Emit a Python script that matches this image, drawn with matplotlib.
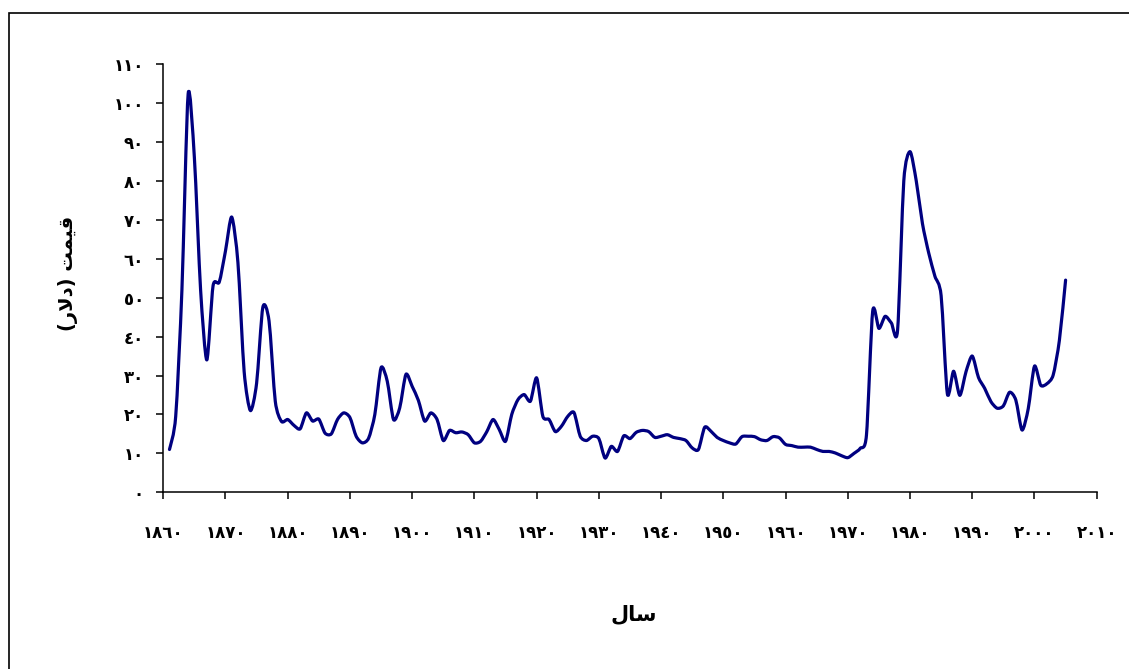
import numpy as np
import matplotlib
matplotlib.use("Agg")
import matplotlib.pyplot as plt
from matplotlib.patches import Rectangle, PathPatch
from matplotlib.path import Path

# annual crude oil price, 1861-2005 (dollars)
years = list(range(1861, 2006))
prices = [
    11.0, 19.5, 52.0, 102.3, 86.0, 52.0, 34.0, 53.0, 54.0,              # 1861-1869
    62.0, 70.7, 59.0, 31.0, 21.0, 28.0, 47.5, 44.0, 23.4, 18.2,         # 1870s
    18.7, 17.2, 16.3, 20.4, 18.3, 18.8, 15.2, 15.0, 18.7, 20.4,         # 1880s
    19.2, 14.4, 12.7, 13.9, 20.0, 32.0, 28.5, 18.7, 21.7, 30.3,         # 1890s
    27.2, 23.6, 18.3, 20.4, 18.7, 13.3, 15.9, 15.3, 15.5, 14.8,         # 1900s
    12.7, 13.1, 15.6, 18.7, 16.1, 13.1, 20.0, 23.8, 25.1, 23.4,         # 1910s
    29.4, 19.5, 18.7, 15.6, 17.0, 19.5, 20.5, 14.4, 13.3, 14.4,         # 1920s
    13.8, 8.8, 11.8, 10.5, 14.5, 13.8, 15.4, 15.9, 15.6, 14.1,          # 1930s
    14.4, 14.8, 14.1, 13.8, 13.3, 11.4, 11.0, 16.7, 15.7, 14.1,         # 1940s
    13.3, 12.7, 12.4, 14.3, 14.4, 14.3, 13.5, 13.3, 14.3, 14.0,         # 1950s
    12.3, 12.0, 11.6, 11.6, 11.6, 11.0, 10.5, 10.5, 10.1, 9.4,          # 1960s
    8.9, 10.0, 11.3, 14.7, 46.5, 42.1, 45.2, 43.5, 41.6, 80.0,          # 1970s
    87.5, 80.0, 69.0, 61.5, 55.5, 50.5, 25.3, 31.1, 24.9, 31.0,         # 1980s
    35.0, 29.5, 26.7, 23.3, 21.6, 22.2, 25.7, 23.7, 16.0, 21.5,         # 1990s
    32.4, 27.5, 27.9, 30.1, 39.0, 54.5,                                 # 2000-2005
]

x_ticks = list(range(1860, 2011, 10))
y_ticks = list(range(0, 111, 10))

# shaped Persian labels in visual (left-to-right) order
y_title = "(\ufead\ufefb\ufea9) \ufe96\ufee4\ufef4\ufed7"   # قیمت (دلار)
x_title = "\ufedd\ufe8e\ufeb3"                               # سال

AR_DIGITS = str.maketrans("0123456789", "\u0660\u0661\u0662\u0663\u0664"
                                        "\u0665\u0666\u0667\u0668\u0669")


def ar(n):
    return str(n).translate(AR_DIGITS)


def smooth_path(x, y, k=8.0):
    """Smoothed line through every point (cardinal spline as cubic Beziers)."""
    p = np.column_stack([x, y]).astype(float)
    ext = np.vstack([p[0], p, p[-1]])
    verts = [p[0]]
    codes = [Path.MOVETO]
    for i in range(len(p) - 1):
        a, b, c, d = ext[i], ext[i + 1], ext[i + 2], ext[i + 3]
        verts += [b + (c - a) / k, c - (d - b) / k, c]
        codes += [Path.CURVE4] * 3
    return Path(verts, codes)


plt.rcParams['font.family'] = ['DejaVu Sans']

fig = plt.figure(figsize=(11.29, 6.69), dpi=100)
ax = fig.add_axes([0.1446, 0.2641, 0.8268, 0.6402])

ax.add_patch(PathPatch(smooth_path(years, prices), fill=False,
                       edgecolor='#000080', lw=2.3, capstyle='round',
                       joinstyle='round'))

ax.set_xlim(1860, 2010)
ax.set_ylim(0, 110)
ax.set_xticks(x_ticks)
ax.set_yticks(y_ticks)
ax.set_xticklabels([ar(v) for v in x_ticks], fontsize=12, fontweight='bold')
ax.set_yticklabels([ar(v) for v in y_ticks], fontsize=12, fontweight='bold')
ax.tick_params(axis='x', length=5, width=1.1, pad=18)
ax.tick_params(axis='y', length=5, width=1.1, pad=9)

for side in ('top', 'right'):
    ax.spines[side].set_visible(False)
for side in ('left', 'bottom'):
    ax.spines[side].set_linewidth(1.1)

fig.text(68 / 1129, 1 - 273 / 669, y_title, rotation=90, ha='center',
         va='center', fontsize=14, fontweight='bold')
fig.text(634 / 1129, 1 - 614 / 669, x_title, ha='center', va='center',
         fontsize=15, fontweight='bold')

# outer chart frame
fig.add_artist(Rectangle((9 / 1129, -0.5), 2.0, 0.5 + (1 - 13 / 669),
                         transform=fig.transFigure, fill=False,
                         edgecolor='black', lw=1.2))

fig.savefig('out.png', dpi=100)
